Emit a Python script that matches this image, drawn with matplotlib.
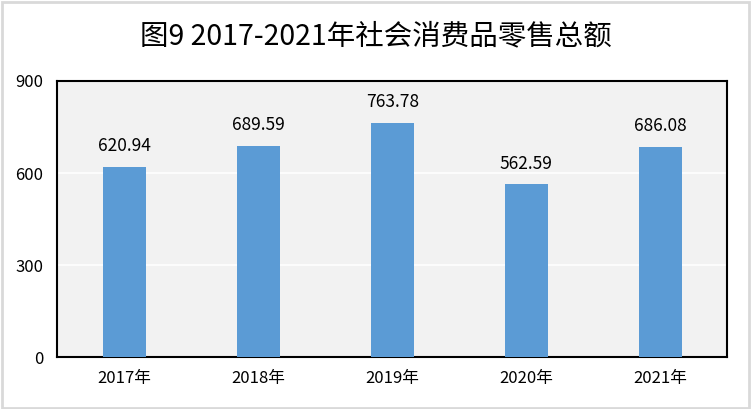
import matplotlib.pyplot as plt
from matplotlib.patches import Rectangle

plt.rcParams['font.family'] = ['Noto Sans CJK SC', 'DejaVu Sans']

years = ['2017年', '2018年', '2019年', '2020年', '2021年']
sales = [620.94, 689.59, 763.78, 562.59, 686.08]
yticks = [0, 300, 600, 900]

fig = plt.figure(figsize=(7.52, 4.09), dpi=100)
ax = fig.add_axes([0.0758, 0.127, 0.8916, 0.675])

ax.set_facecolor('#f2f2f2')
ax.bar(range(len(years)), sales, width=0.32, color='#5b9bd5', zorder=3)
for i, v in enumerate(sales):
    ax.text(i, v + 38, '%.2f' % v, ha='center', va='bottom', fontsize=12.5, color='black')

ax.set_xlim(-0.5, len(years) - 0.5)
ax.set_ylim(0, 900)
ax.set_yticks(yticks)
ax.set_xticks(range(len(years)))
ax.set_xticklabels(years)
ax.tick_params(axis='both', length=0, labelsize=12, colors='black')
ax.tick_params(axis='y', pad=10)
ax.tick_params(axis='x', pad=9)
ax.grid(axis='y', color='white', linewidth=1.2, zorder=1)
for s in ax.spines.values():
    s.set_linewidth(1.5)
    s.set_color('black')

fig.text(0.5, 0.91, '图9 2017-2021年社会消费品零售总额', ha='center', va='center', fontsize=20.5)
fig.patches.append(Rectangle((0.002, 0.003), 0.994, 0.992, transform=fig.transFigure,
                             fill=False, edgecolor='#d9d9d9', linewidth=2))

plt.savefig('out.png')
